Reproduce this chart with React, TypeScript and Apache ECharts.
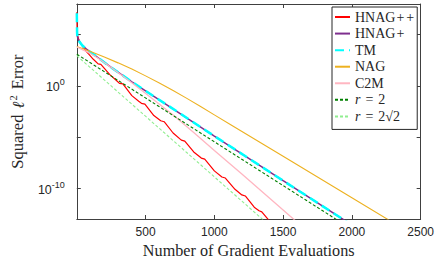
import React, { useEffect, useRef } from 'react';
import * as echarts from 'echarts';

// x: number of gradient evaluations, y: log10 of squared l2 error
const xTickStep = 500;
const yLabelExps = [-10, 0];
const yTickExps = [-10, -5, 0, 5];

const hnagPP: [number, number][] = [
  [0, 7.2], [2, 5.6], [6, 4.9], [15, 4.5], [35, 4.0], [60, 3.5], [90, 3.05], [120, 2.6],
  [155, 2.15], [175, 2.1], [240, 1.1], [290, 0.5], [310, 0.25], [335, 0.2], [400, -0.95],
  [450, -1.5], [470, -1.7], [495, -1.78], [560, -2.9], [610, -3.4], [635, -3.5], [700, -4.6],
  [760, -5.3], [785, -5.4], [850, -6.45], [905, -7.05], [930, -7.15], [1000, -8.3],
  [1055, -8.9], [1080, -9.0], [1150, -10.1], [1200, -10.65], [1225, -10.75], [1290, -11.85],
  [1325, -12.2], [1345, -12.3], [1420, -13.5],
];
const hnagP: [number, number][] = [
  [0, 5.3], [4, 4.85], [10, 4.55], [20, 4.3], [40, 3.95], [70, 3.6], [110, 3.2], [160, 2.7],
  [250, 1.8], [400, 0.4], [1000, -4.9], [1500, -9.26], [1990, -13.5],
];
const tm: [number, number][] = [
  [0, 7.1], [2, 5.2], [5, 4.6], [12, 4.45], [20, 4.3], [40, 3.95], [70, 3.6], [110, 3.2],
  [160, 2.7], [250, 1.8], [400, 0.4], [1000, -4.9], [1500, -9.26], [1990, -13.5],
];
const nag: [number, number][] = [
  [0, 3.85], [100, 3.35], [200, 2.82], [300, 2.25], [400, 1.64], [500, 0.98], [600, 0.28],
  [700, -0.45], [800, -1.22], [900, -2.02], [1000, -2.83], [1116, -3.77], [1500, -6.88],
  [2000, -10.93], [2320, -13.52],
];
const c2m: [number, number][] = [
  [0, 3.8], [40, 3.55], [80, 3.3], [150, 2.75], [250, 1.8], [400, 0.3], [550, -1.25],
  [700, -2.85], [850, -4.55], [1000, -6.3], [1200, -8.6], [1400, -10.95], [1575, -13.0],
  [1620, -13.53],
];
const rate2: [number, number][] = [[0, 3.1], [1940, -13.5]];
const rate2s2: [number, number][] = [[0, 2.95], [1390, -13.5]];

const seriesNames = ['HNAG++', 'HNAG+', 'TM', 'NAG', 'C2M', 'r = 2', 'r = 2√2'];

const AX = '#404040';
const SERIF = '"Liberation Serif", "Times New Roman", serif';
const SANS = '"Liberation Sans", Arial, sans-serif';

export default function App() {
  const ref = useRef<HTMLDivElement>(null);
  useEffect(() => {
    const chart = echarts.init(ref.current!, null, { renderer: 'svg' });
    const mk = (name: string, data: [number, number][], color: string, width: number, type: any = 'solid') => ({
      name,
      type: 'line',
      data,
      symbol: 'none',
      showSymbol: false,
      clip: true,
      lineStyle: { color, width, type },
      itemStyle: { color },
      emphasis: { disabled: true },
    });
    const supRich = {
      b: { fontSize: 12.5, fontFamily: SANS, color: '#262626', lineHeight: 16, verticalAlign: 'bottom' },
      s: { fontSize: 9, fontFamily: SANS, color: '#262626', lineHeight: 10, verticalAlign: 'top' },
    };
    const LF = 14;
    const legText = { fontFamily: SERIF, fontSize: LF, color: '#262626', lineHeight: LF };
    const axisLine = { show: true, onZero: false, lineStyle: { color: AX, width: 1 } };
    const legendFormat = (n: string) => {
      if (n.startsWith('r =')) return '{i|r} {e|=} ' + n.slice(4);
      return n.replace(/\+/g, '{p|+}');
    };
    const option: any = {
      animation: false,
      backgroundColor: '#fff',
      grid: { left: 69, right: 16, top: 4, bottom: 50, containLabel: false },
      legend: {
        orient: 'vertical',
        left: 332,
        top: 7,
        itemWidth: 15,
        itemHeight: 10,
        itemGap: 2.57,
        padding: [3, 2, 6, 2],
        borderColor: '#262626',
        borderWidth: 1,
        borderRadius: 0,
        backgroundColor: '#fff',
        itemStyle: { color: 'rgba(0,0,0,0)', borderWidth: 0, opacity: 0 },
        textStyle: {
          ...legText,
          rich: {
            i: { ...legText, fontStyle: 'italic' },
            e: { ...legText, padding: [0, 1.5, 0, 1.5] },
            p: { ...legText, padding: [0, 1, 0, 1] },
          },
        },
        formatter: legendFormat,
        data: seriesNames,
        selectedMode: false,
      },
      xAxis: [
        {
          type: 'value',
          min: 0,
          max: 2500,
          interval: xTickStep,
          position: 'bottom',
          axisLine,
          axisTick: { show: true, inside: true, length: 4, lineStyle: { color: AX } },
          axisLabel: {
            showMinLabel: false,
            color: '#262626',
            fontSize: 12,
            fontFamily: SANS,
            margin: 7,
            formatter: (v: number) => String(v),
          },
          splitLine: { show: false },
          name: 'Number of Gradient Evaluations',
          nameLocation: 'middle',
          nameGap: 24,
          nameTextStyle: { fontFamily: SERIF, fontSize: 16.2, color: '#262626' },
        },
        {
          type: 'value',
          min: 0,
          max: 2500,
          interval: xTickStep,
          position: 'top',
          axisLine,
          axisTick: { show: true, inside: true, length: 4, lineStyle: { color: AX } },
          axisLabel: { show: false },
          splitLine: { show: false },
        },
      ],
      yAxis: [
        {
          type: 'value',
          min: -13,
          max: 8,
          position: 'left',
          axisLine,
          axisTick: { show: true, inside: true, length: 4, lineStyle: { color: AX }, customValues: yTickExps },
          axisLabel: {
            customValues: yLabelExps,
            margin: 12,
            formatter: (v: number) => `{b|10}{s|${v}}`,
            rich: supRich,
          },
          splitLine: { show: false },
          name: 'Squared {i|ℓ}{s|2} Error',
          nameLocation: 'middle',
          nameGap: 45,
          nameRotate: 90,
          nameTextStyle: {
            fontFamily: SERIF,
            fontSize: 16.5,
            color: '#262626',
            rich: {
              i: { fontFamily: SERIF, fontStyle: 'italic', fontSize: 16.5, color: '#262626', lineHeight: 19, verticalAlign: 'bottom', padding: [0, 1, 0, 2] },
              s: { fontFamily: SERIF, fontSize: 10.5, color: '#262626', lineHeight: 10, verticalAlign: 'top', padding: [0, 2, 0, 0] },
            },
          },
        },
        {
          type: 'value',
          min: -13,
          max: 8,
          position: 'right',
          axisLine,
          axisTick: { show: true, inside: true, length: 4, lineStyle: { color: AX }, customValues: yTickExps },
          axisLabel: { show: false },
          splitLine: { show: false },
        },
      ],
      series: [
        mk('HNAG++', hnagPP, '#FF0000', 1.2),
        mk('HNAG+', hnagP, '#7E2F8E', 1.5),
        mk('TM', tm, '#00FFFF', 2.5, [9, 5]),
        mk('NAG', nag, '#EDB120', 1.1),
        mk('C2M', c2m, '#FFB6C1', 1.3),
        mk('r = 2', rate2, '#008000', 1.1, [3, 2]),
        mk('r = 2√2', rate2s2, '#90EE90', 1.1, [3, 2]),
      ],
    };
    chart.setOption(option);
    return () => chart.dispose();
  }, []);
  return (
    <div
      ref={ref}
      style={{ position: 'fixed', left: 0, top: 0, width: 437, height: 269, background: '#fff' }}
    />
  );
}
